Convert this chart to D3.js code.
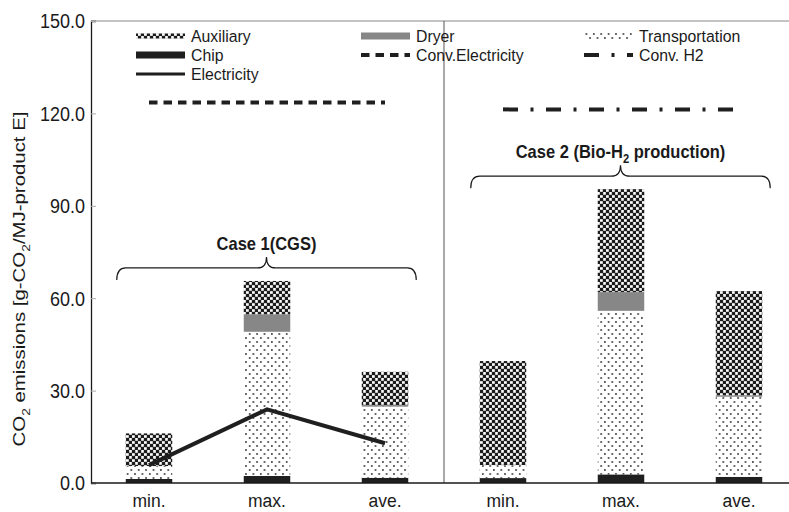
<!DOCTYPE html>
<html>
<head>
<meta charset="utf-8">
<script src="https://cdn.jsdelivr.net/npm/d3@7"></script>
<style>
  html, body { margin: 0; padding: 0; background: #fff; }
  svg { display: block; font-family: "Liberation Sans", Arial, Helvetica, sans-serif; }
</style>
</head>
<body>
<script>
// ---------------- data ----------------
const categories = ["min.", "max.", "ave.", "min.", "max.", "ave."];
const caseOf = [0, 0, 0, 1, 1, 1];
const chip = [1.3, 2.3, 1.7, 1.6, 2.8, 2.0];
const transportation = [4.2, 46.8, 23.1, 4.2, 53.1, 26.0];
const dryer = [0.0, 5.7, 0.5, 0.0, 6.1, 0.5];
const auxiliary = [10.6, 10.8, 10.8, 33.8, 33.4, 33.8];
const electricity = [5.8, 23.9, 12.9];          // case 1 min, max, ave
const convElectricity = 123.5;                  // across case 1
const convH2 = 121.3;                           // across case 2
const yTicks = [0, 30, 60, 90, 120, 150];
const caseLabels = [["Case 1(CGS)"], ["Case 2 (Bio-H", "2", " production)"]];
const seriesKeys = ["chip", "transportation", "dryer", "auxiliary"];

// ---------------- setup ----------------
const W = 789, H = 512;
const svg = d3.select("body").append("svg").attr("width", W).attr("height", H);
const defs = svg.append("defs");

const SY = 1.15; // vertical text stretch seen in the reference
function txt(parent, x, y, parts, o = {}) {
  const sy = o.sy || SY;
  const t = parent.append("text")
    .attr("transform", `translate(${x},${y}) ${o.rotate ? "rotate(-90)" : ""} scale(${o.rotate ? sy : 1},${o.rotate ? 1 : sy})`)
    .attr("font-size", o.size || 16)
    .attr("font-weight", o.weight || "normal")
    .attr("text-anchor", o.anchor || "start")
    .attr("fill", "#1a1a1a");
  if (o.baseline) t.attr("dominant-baseline", o.baseline);
  parts.forEach((p, i) => {
    const sub = o.subs && o.subs.includes(i);
    const s = t.append("tspan").text(p);
    if (sub) s.attr("font-size", (o.size || 16) * 0.68).attr("dy", (o.size || 16) * 0.28);
    else if (i > 0 && o.subs && o.subs.includes(i - 1)) s.attr("dy", -(o.size || 16) * 0.28);
  });
  return t;
}

// patterns
const pAux = defs.append("pattern").attr("id", "pAux").attr("patternUnits", "userSpaceOnUse")
  .attr("width", 6).attr("height", 6);
pAux.append("rect").attr("width", 6).attr("height", 6).attr("fill", "#fff");
[[0, 0], [3, 3], [6, 0], [0, 6], [6, 6]].forEach(([px, py]) =>
  pAux.append("rect").attr("x", px - 0.2).attr("y", py - 0.2).attr("width", 3.4).attr("height", 3.4).attr("fill", "#1c1c1c"));

const pTr = defs.append("pattern").attr("id", "pTr").attr("patternUnits", "userSpaceOnUse")
  .attr("width", 7.4).attr("height", 8);
pTr.append("rect").attr("width", 7.4).attr("height", 8).attr("fill", "#fff");
[[1.8, 2], [5.5, 6]].forEach(([px, py]) => pTr.append("circle").attr("cx", px).attr("cy", py).attr("r", 0.9).attr("fill", "#333"));

const fills = { chip: "#1f1f1f", transportation: "url(#pTr)", dryer: "#878787", auxiliary: "url(#pAux)" };

// scales
const x = d3.scaleBand().domain(d3.range(categories.length)).range([90, 798])
  .paddingInner(0.606).paddingOuter(0.303);
const y = d3.scaleLinear().domain([0, 150]).range([483, 21]);
const cx = i => x(i) + x.bandwidth() / 2;

// frame
const plotRight = 798;
svg.append("line").attr("x1", 91).attr("x2", plotRight).attr("y1", y(150)).attr("y2", y(150))
  .attr("stroke", "#b0b0b0").attr("stroke-width", 1.5);

// y axis
const yAxis = d3.axisLeft(y).tickValues(yTicks).tickSize(-5).tickFormat(d3.format(".1f")).tickPadding(6);
const gy = svg.append("g").attr("transform", "translate(91,0)").call(yAxis);
gy.select(".domain").attr("stroke", "#1a1a1a").attr("stroke-width", 1.3);
gy.selectAll(".tick line").attr("stroke", "#aaa").attr("stroke-width", 1);
gy.selectAll(".tick text").remove();
yTicks.forEach(v => txt(svg, 85, y(v), [d3.format(".1f")(v)], { size: 18, anchor: "end", baseline: "central" }));

// divider between cases
const divX = (cx(2) + cx(3)) / 2;
svg.append("line").attr("x1", divX).attr("x2", divX).attr("y1", y(150)).attr("y2", y(0))
  .attr("stroke", "#555").attr("stroke-width", 1);

// stacked bars
const table = categories.map((c, i) => ({ i, chip: chip[i], transportation: transportation[i], dryer: dryer[i], auxiliary: auxiliary[i] }));
const stacked = d3.stack().keys(seriesKeys)(table);
svg.append("g").selectAll("g").data(stacked).join("g")
  .attr("fill", d => fills[d.key])
  .selectAll("rect").data(d => d).join("rect")
  .attr("x", d => x(d.data.i)).attr("width", x.bandwidth())
  .attr("y", d => y(d[1])).attr("height", d => Math.max(0, y(d[0]) - y(d[1])));

// x axis line
svg.append("line").attr("x1", 91).attr("x2", plotRight).attr("y1", y(0)).attr("y2", y(0))
  .attr("stroke", "#1a1a1a").attr("stroke-width", 1.3);
categories.forEach((c, i) => txt(svg, cx(i), 507, [c], { size: 17.5, anchor: "middle", sy: 1.1 }));

// electricity line
const line = d3.line().x((d, i) => cx(i)).y(d => y(d));
svg.append("path").datum(electricity).attr("d", line).attr("fill", "none")
  .attr("stroke", "#1f1f1f").attr("stroke-width", 4);

// conventional references
svg.append("line").attr("x1", cx(0)).attr("x2", cx(2)).attr("y1", y(convElectricity)).attr("y2", y(convElectricity))
  .attr("stroke", "#1f1f1f").attr("stroke-width", 4).attr("stroke-dasharray", "8.5,6");
svg.append("line").attr("x1", cx(3)).attr("x2", cx(5)).attr("y1", y(convH2)).attr("y2", y(convH2))
  .attr("stroke", "#1f1f1f").attr("stroke-width", 4).attr("stroke-dasharray", "15,12.5,3,12.5");

// braces + case labels
function brace(x0, x1, yEnd) {
  const yH = yEnd - 12, yTip = yEnd - 23, xm = (x0 + x1) / 2, r = 9;
  return `M${x0},${yEnd} Q${x0},${yH} ${x0 + r},${yH} L${xm - r},${yH} Q${xm},${yH} ${xm},${yTip}`
    + ` Q${xm},${yH} ${xm + r},${yH} L${x1 - r},${yH} Q${x1},${yH} ${x1},${yEnd}`;
}
[0, 1].forEach(k => {
  const idx = d3.range(categories.length).filter(i => caseOf[i] === k);
  const tops = idx.map(i => chip[i] + transportation[i] + dryer[i] + auxiliary[i]);
  const yEnd = y(d3.max(tops)) - 1;
  const x0 = x(idx[0]) - 9, x1 = x(idx[idx.length - 1]) + x.bandwidth() + 8;
  svg.append("path").attr("d", brace(x0, x1, yEnd)).attr("fill", "none")
    .attr("stroke", "#1a1a1a").attr("stroke-width", 1.2);
  txt(svg, (x0 + x1) / 2, yEnd - 30, caseLabels[k], { size: 16.5, weight: "bold", anchor: "middle", subs: k === 1 ? [1] : [] });
});

// y axis title
txt(svg, 25, 279, ["CO", "2", " emissions [g-CO", "2", "/MJ-product E]"], { size: 17, anchor: "middle", rotate: true, subs: [1, 3], sy: 1.2 });

// legend
const lg = svg.append("g");
const legendItems = [
  { label: "Auxiliary", type: "rect", fill: "url(#pAux)", x: 136, y: 36, h: 5 },
  { label: "Dryer", type: "rect", fill: "#878787", x: 361, y: 36, h: 7 },
  { label: "Transportation", type: "rect", fill: "url(#pTr)", x: 584, y: 36, h: 6 },
  { label: "Chip", type: "rect", fill: "#1f1f1f", x: 136, y: 55, h: 7 },
  { label: "Conv.Electricity", type: "line", dash: "8.5,6", x: 361, y: 55 },
  { label: "Conv. H2", type: "line", dash: "15,12.5,3,12.5", x: 584, y: 55 },
  { label: "Electricity", type: "line", dash: null, x: 136, y: 74, sw: 3 }
];
legendItems.forEach(d => {
  if (d.type === "rect") {
    lg.append("rect").attr("x", d.x).attr("y", d.y - d.h / 2).attr("width", 49).attr("height", d.h).attr("fill", d.fill);
  } else {
    const l = lg.append("line").attr("x1", d.x).attr("x2", d.x + 49).attr("y1", d.y).attr("y2", d.y)
      .attr("stroke", "#1f1f1f").attr("stroke-width", d.sw || 4);
    if (d.dash) l.attr("stroke-dasharray", d.dash);
  }
  txt(lg, d.x + 55, d.y, [d.label], { size: 15.8, baseline: "central", sy: 1.04 });
});
</script>
</body>
</html>
